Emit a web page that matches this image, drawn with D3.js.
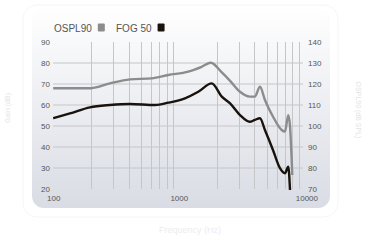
<!DOCTYPE html>
<html><head><meta charset="utf-8">
<script src="https://cdn.jsdelivr.net/npm/d3@7"></script>
<style>html,body{margin:0;padding:0;background:#fff;}svg{display:block;font-family:"Liberation Sans",Arial,sans-serif;}</style>
</head><body>
<script>
const ospFreq = [100,150,200,283,409,608,825,1190,1520,1800,2200,2560,3070,3670,4030,4430,4850,5630,6590,7000,7440,7680,8010];
const ospVal  = [68,68,68,70.3,72.2,72.7,74.3,75.9,78.2,80.1,75.5,71.5,66.3,64.0,64.0,68.7,62.4,54.4,48.1,47.3,55.2,50,26.7];
const fogFreq = [100,136,196,283,409,647,825,1120,1430,1830,2200,2560,3070,3670,4030,4430,4850,5620,6390,7000,7440,7680];
const fogVal  = [53.7,56.0,58.9,60.0,60.5,60.0,61.1,63.2,66.3,70.3,64.0,60.8,55.2,52.0,52.9,53.7,48.1,38.6,29.9,27.5,30.6,19.5];
const leftTicks = [20,30,40,50,60,70,80,90];
const rightTicks = [70,80,90,100,110,120,130,140];
const xTicks = [100,1000,10000];
const gridFreqs = [200,300,400,500,600,700,800,900,2000,3000,4000,5000,6000,7000,8000,9000];
const legendNames = ["OSPL90","FOG 50"];
const colors = ["#8c8c8c","#1a120c"];

const W=367,H=240;
const svg=d3.select("body").append("svg").attr("width",W).attr("height",H);
const defs=svg.append("defs");
const g=defs.append("linearGradient").attr("id","bg").attr("x1",0).attr("y1",0).attr("x2",0).attr("y2",1);
g.append("stop").attr("offset","0%").attr("stop-color","#ffffff");
g.append("stop").attr("offset","100%").attr("stop-color","#d9dce4");

svg.append("rect").attr("x",23).attr("y",5).attr("width",315).attr("height",212).attr("rx",14)
  .attr("fill","#fff").attr("stroke","#f6f6f7");
svg.append("rect").attr("x",32).attr("y",6).attr("width",298).attr("height",202).attr("rx",12)
  .attr("fill","url(#bg)");

const x=d3.scaleLog().domain([100,10000]).range([53.2,304.4]);
const yL=d3.scaleLinear().domain([20,90]).range([189,42]);
const yR=d3.scaleLinear().domain([70,140]).range([189,42]);

// grid
svg.append("g").selectAll("line").data(leftTicks.filter(v=>v>20&&v<90)).join("line")
  .attr("x1",53).attr("x2",303).attr("y1",d=>yL(d)).attr("y2",d=>yL(d))
  .attr("stroke","#c6c6c8").attr("stroke-width",1);
svg.append("g").selectAll("line").data(gridFreqs).join("line")
  .attr("x1",d=>Math.round(x(d))+0.5).attr("x2",d=>Math.round(x(d))+0.5).attr("y1",42).attr("y2",189)
  .attr("stroke","#c6c6c8").attr("stroke-width",1);

// axes
const axL=svg.append("g").attr("transform","translate(50,0)").call(d3.axisLeft(yL).tickValues(leftTicks).tickSize(0).tickPadding(0));
const axR=svg.append("g").attr("transform","translate(308,0)").call(d3.axisRight(yR).tickValues(rightTicks).tickSize(0).tickPadding(0));
const axB=svg.append("g").attr("transform","translate(0,195)").call(d3.axisBottom(x).tickValues(xTicks).tickFormat(d3.format("d")).tickSize(0).tickPadding(0));
[axL,axR,axB].forEach(a=>{a.select(".domain").remove();a.selectAll("text").attr("fill","#555").attr("font-size","8px").attr("font-family","Liberation Sans, Arial, sans-serif");});
axB.selectAll("text").attr("dy","0.71em");
axB.selectAll("text").filter(d=>d===10000).attr("dx","2");

// lines
const lineL=d3.line().x(d=>x(d[0])).y(d=>yL(d[1])).curve(d3.curveMonotoneX);
svg.append("path").datum(ospFreq.map((f,i)=>[f,ospVal[i]])).attr("d",lineL)
  .attr("fill","none").attr("stroke",colors[0]).attr("stroke-width",2.4).attr("stroke-linejoin","round");
svg.append("path").datum(fogFreq.map((f,i)=>[f,fogVal[i]])).attr("d",lineL)
  .attr("fill","none").attr("stroke",colors[1]).attr("stroke-width",2.4).attr("stroke-linejoin","round");

// legend
const lx=[54,116];
legendNames.forEach((n,i)=>{
  const t=svg.append("text").attr("x",lx[i]).attr("y",32).attr("font-size","10px").attr("fill","#555").text(n);
  const w=t.node().getComputedTextLength();
  svg.append("rect").attr("x",lx[i]+w+6).attr("y",23.5).attr("width",7).attr("height",8).attr("rx",1).attr("fill",colors[i]);
});

// faint axis titles
svg.append("text").attr("x",190).attr("y",233).attr("text-anchor","middle").attr("font-size","9px").attr("fill","#ececee").text("Frequency (Hz)");
svg.append("text").attr("transform","translate(10,108) rotate(-90)").attr("text-anchor","middle").attr("font-size","7px").attr("fill","#e4e4e6").text("Gain (dB)");
svg.append("text").attr("transform","translate(356,110) rotate(90)").attr("text-anchor","middle").attr("font-size","7px").attr("fill","#e4e4e6").text("OSPL90 (dB SPL)");
</script>
</body></html>
